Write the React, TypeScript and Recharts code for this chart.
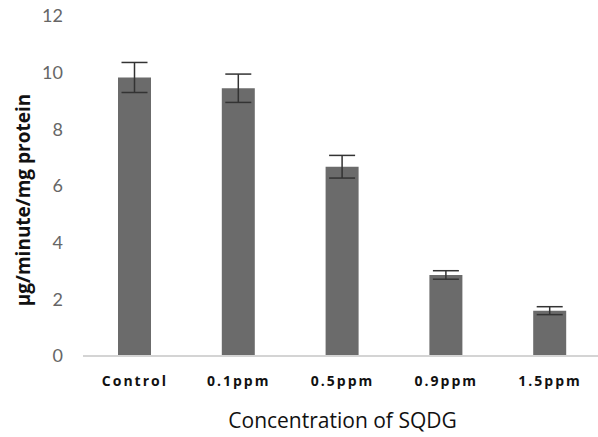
import React from "react";
import { BarChart, Bar, XAxis, YAxis, ErrorBar, Label } from "recharts";

const categories = ["Control", "0.1ppm", "0.5ppm", "0.9ppm", "1.5ppm"];
const activity = [9.83, 9.45, 6.68, 2.86, 1.6];
const errors = [0.53, 0.5, 0.4, 0.15, 0.14];
const yTicks = [0, 2, 4, 6, 8, 10, 12];

const data = categories.map((c, i) => ({ name: c, value: activity[i], err: errors[i] }));

const FONT = "'Open Sans', Lato, sans-serif";

export default function App() {
  return (
    <div style={{ position: "absolute", left: 0, top: 0, width: 598, height: 437, overflow: "hidden", background: "#fff" }}>
      <BarChart
        width={604}
        height={437}
        data={data}
        margin={{ top: 16, right: 2, bottom: 0, left: 0 }}
        barSize={33}
      >
        <XAxis
          dataKey="name"
          height={81}
          tickLine={false}
          axisLine={{ stroke: "#d4d4d4", strokeWidth: 2 }}
          tickMargin={14}
          tick={{ fill: "#111", fontSize: 14, fontWeight: 700, fontFamily: FONT, letterSpacing: 2 }}
        >
          <Label
            value="Concentration of SQDG"
            position="insideBottom"
            offset={9}
            style={{ fill: "#111", fontSize: 21, fontFamily: FONT }}
          />
        </XAxis>
        <YAxis
          width={83}
          domain={[0, 12]}
          ticks={yTicks}
          interval={0}
          axisLine={false}
          tickLine={false}
          tickMargin={14}
          tick={{ fill: "#666", fontSize: 18, fontFamily: "Lato, sans-serif" }}
        >
          <Label
            content={() => (
              <text
                x={23}
                y={200}
                transform="rotate(-90, 23, 200)"
                textAnchor="middle"
                dominantBaseline="central"
                style={{ fill: "#111", fontSize: 19, fontWeight: 700, fontFamily: FONT }}
              >
                µg/minute/mg protein
              </text>
            )}
          />
        </YAxis>
        <Bar dataKey="value" fill="#6b6b6b" isAnimationActive={false}>
          <ErrorBar dataKey="err" width={13} stroke="#333" strokeWidth={1.5} />
        </Bar>
      </BarChart>
    </div>
  );
}
